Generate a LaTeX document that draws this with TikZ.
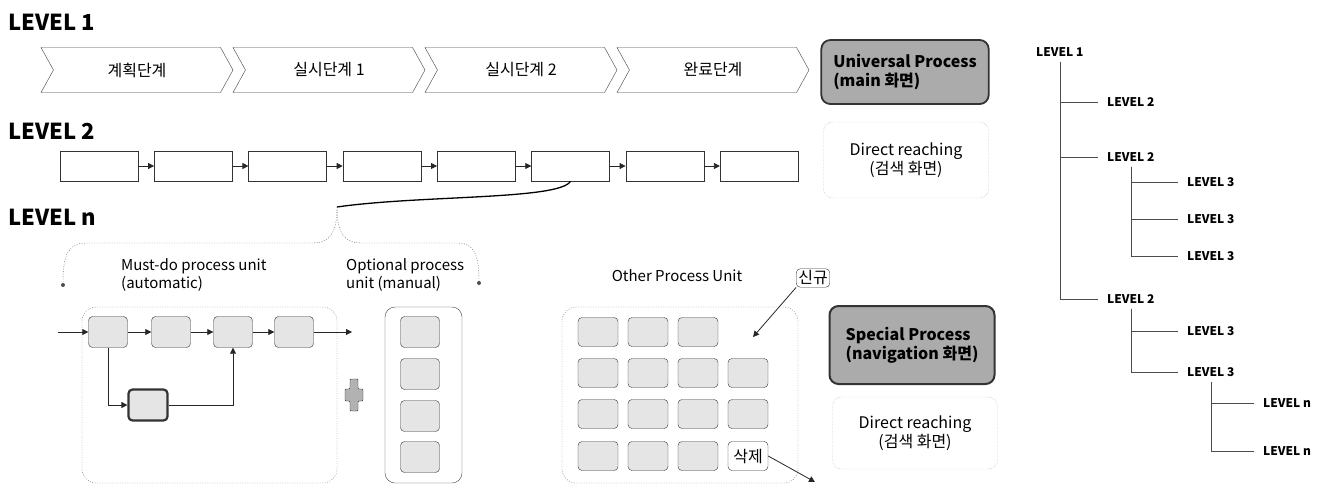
\documentclass[tikz,border=0pt]{standalone}
\usepackage{fontspec}
\setmainfont{Noto Sans CJK KR}
\usepackage{tikz}
\usetikzlibrary{arrows.meta, shapes.symbols, positioning}
\tikzset{
  basebox/.style={rectangle, rounded corners=4pt, draw=black!80, align=center},
  chevron/.style={signal, signal from=west, signal to=east, signal pointer angle=122,
    draw=black!75, minimum width=192pt, minimum height=45pt, inner sep=0pt,
    font=\fontsize{16}{18}\selectfont},
  levellabel/.style={anchor=west, inner sep=0pt, font=\fontsize{22}{24}\selectfont\bfseries},
  stepbox/.style={rectangle, draw=black!80, minimum width=78pt, minimum height=30pt, inner sep=0pt},
  unitbox/.style={basebox, fill=black!10, minimum width=39pt, minimum height=31pt, inner sep=0pt},
  mainbox/.style={basebox, rounded corners=9pt, fill=black!33, line width=1.8pt, align=left,
    minimum width=165pt, inner xsep=12pt, font=\fontsize{16}{19}\selectfont\bfseries},
  reachbox/.style={basebox, rounded corners=9pt, draw=black!35, densely dotted,
    minimum width=165pt, font=\fontsize{16}{19}\selectfont},
  tagbox/.style={basebox, fill=white, inner sep=2pt, font=\fontsize{16}{18}\selectfont},
  grouparea/.style={rectangle, draw=black!55, dash pattern=on 1pt off 1.5pt, rounded corners=14pt, inner sep=0pt},
  caption/.style={align=left, inner sep=0pt, font=\fontsize{15}{18}\selectfont},
  enddot/.style={circle, fill=black!70, inner sep=0pt, minimum size=4pt},
  treelabel/.style={anchor=west, inner sep=1pt, font=\fontsize{12}{14}\selectfont\bfseries},
  arrow/.style={-{Triangle[length=6pt,width=6pt]}, black!85, line width=0.8pt},
  treeline/.style={black!70, line width=0.6pt, shorten <=4pt, shorten >=8pt}
}

\begin{document}
\begin{tikzpicture}[x=1pt, y=-1pt]
  \useasboundingbox (0,0) rectangle (1327,488);

  % level 1
  \node[levellabel] (lv1) at (8,22) {LEVEL 1};
  \node[chevron] (plan) at (137,70) {계획단계};
  \node[chevron] (exec1) at (329,70) {실시단계 1};
  \node[chevron] (exec2) at (521,70) {실시단계 2};
  \node[chevron] (done) at (713,70) {완료단계};
  \node[mainbox, minimum height=64pt] (univ) at (905,72) {Universal Process\\(main 화면)};

  % level 2
  \node[levellabel] (lv2) at (8,131) {LEVEL 2};
  \foreach \i in {1,...,8}
    \node[stepbox] (s\i) at ({99+94.3*(\i-1)},166) {};
  \foreach \i [count=\j from 2] in {1,...,7}
    \draw[arrow] (s\i) -- (s\j);
  \node[reachbox, minimum height=76pt] (reach1) at (906,160) {Direct reaching\\(검색 화면)};

  % level n
  \node[levellabel] (lvn) at (8,217) {LEVEL n};
  \coordinate (bracetip) at (337,207);
  \node[enddot] (dotL) at (63,285) {};
  \node[enddot] (dotR) at (479,283) {};
  \draw[line width=1.3pt] (s6.south) .. controls (560,200) and (420,195) .. (bracetip);
  \draw[black!60, dash pattern=on 1pt off 1.5pt] (bracetip) .. controls (337,233) and (330,243) .. (312,243)
    -- (86,243) .. controls (68,243) and (63,255) .. (dotL);
  \draw[black!60, dash pattern=on 1pt off 1.5pt] (bracetip) .. controls (337,233) and (344,243) .. (362,243)
    -- (458,243) .. controls (474,243) and (479,255) .. (dotR);

  \node[caption, anchor=north west] (mustcap) at (121,258) {Must-do process unit\\(automatic)};
  \node[caption, anchor=north west] (optcap) at (346,258) {Optional process\\unit (manual)};

  \node[grouparea, minimum width=255pt, minimum height=176pt] (mustarea) at (209.5,395) {};
  \node[unitbox] (m1) at (108,332) {};
  \node[unitbox] (m2) at (171,332) {};
  \node[unitbox] (m3) at (233,332) {};
  \node[unitbox] (m4) at (294,332) {};
  \node[unitbox, line width=2.2pt] (mb) at (148,405) {};
  \coordinate (min) at (58,332);
  \coordinate (mout) at (352,332);
  \draw[arrow] (min) -- (m1);
  \draw[arrow] (m1) -- (m2);
  \draw[arrow] (m2) -- (m3);
  \draw[arrow] (m3) -- (m4);
  \draw[arrow] (m4) -- (mout);
  \draw[arrow] (m1.south) |- (mb.west);
  \draw[arrow] (mb.east) -| (m3.south);

  % plus
  \draw[fill=black!30, draw=black!80, rounded corners=1pt, shift={(354,395)}]
    (-4,-16) -- (4,-16) -- (4,-6) -- (9,-6) -- (9,6) -- (4,6) -- (4,16)
    -- (-4,16) -- (-4,6) -- (-9,6) -- (-9,-6) -- (-4,-6) -- cycle;

  \node[rectangle, draw=black!75, rounded corners=10pt, minimum width=77pt, minimum height=176pt] (optarea) at (423.5,395) {};
  \foreach \y [count=\k] in {332,374,416,457}
    \node[unitbox] (o\k) at (420,\y) {};

  % other units
  \node[caption] (othercap) at (677,276) {Other Process Unit};
  \node[tagbox] (newtag) at (813,278) {신규};
  \coordinate (newend) at (753,337);
  \draw[arrow] (newtag.south west) -- (newend);
  \node[grouparea, minimum width=236pt, minimum height=176pt] (otherarea) at (680,395) {};
  \foreach \x [count=\c] in {598,648,698} {
    \node[unitbox, minimum width=40pt, minimum height=29pt] (ga\c) at (\x,332) {};
    \node[unitbox, minimum width=40pt, minimum height=29pt] (gd\c) at (\x,456) {};
  }
  \foreach \x [count=\c] in {598,648,698,748} {
    \node[unitbox, minimum width=40pt, minimum height=29pt] (gb\c) at (\x,373) {};
    \node[unitbox, minimum width=40pt, minimum height=29pt] (gc\c) at (\x,414) {};
  }
  \node[unitbox, fill=white, minimum width=40pt, minimum height=29pt, font=\fontsize{16}{18}\selectfont] (deltag) at (748,456) {삭제};
  \coordinate (delend) at (815,482);
  \draw[arrow] (deltag.east) -- (delend);

  \node[mainbox, minimum height=78pt, line width=2pt] (special) at (912,345) {Special Process\\(navigation 화면)};
  \node[reachbox, minimum height=72pt] (reach2) at (915,433) {Direct reaching\\(검색 화면)};

  % tree
  \node[treelabel] (t1) at (1035,52) {LEVEL 1};
  \node[treelabel] (t2a) at (1106,102) {LEVEL 2};
  \node[treelabel] (t2b) at (1106,157) {LEVEL 2};
  \node[treelabel] (t3a) at (1186,182) {LEVEL 3};
  \node[treelabel] (t3b) at (1186,219) {LEVEL 3};
  \node[treelabel] (t3c) at (1186,256) {LEVEL 3};
  \node[treelabel] (t2c) at (1106,299) {LEVEL 2};
  \node[treelabel] (t3d) at (1186,331) {LEVEL 3};
  \node[treelabel] (t3e) at (1186,372) {LEVEL 3};
  \node[treelabel] (tna) at (1262,403) {LEVEL n};
  \node[treelabel] (tnb) at (1262,451) {LEVEL n};
  \foreach \b in {t2a,t2b,t2c}
    \draw[treeline] (t1.south) |- (\b.west);
  \foreach \b in {t3a,t3b,t3c}
    \draw[treeline] (t2b.south) |- (\b.west);
  \foreach \b in {t3d,t3e}
    \draw[treeline] (t2c.south) |- (\b.west);
  \foreach \b in {tna,tnb}
    \draw[treeline] (t3e.south) |- (\b.west);
\end{tikzpicture}
\end{document}
